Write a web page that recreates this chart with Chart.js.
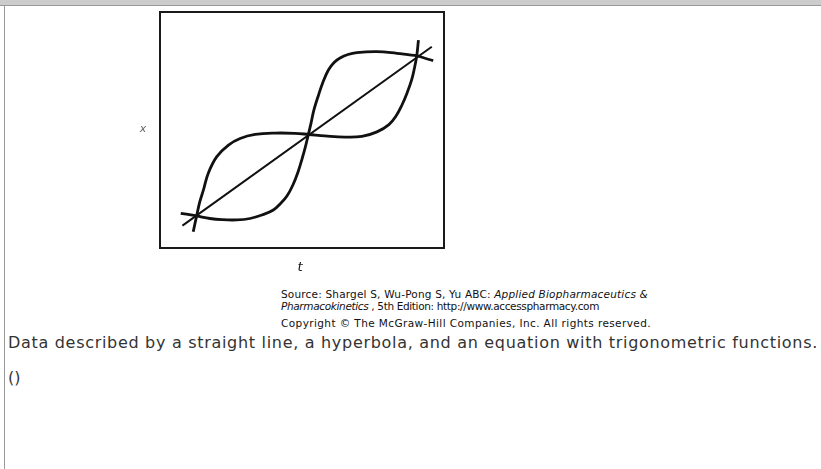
<!DOCTYPE html>
<html>
<head>
<meta charset="utf-8">
<title>Curve fitting: line, hyperbola, trigonometric</title>
<script src="https://cdn.jsdelivr.net/npm/chart.js@4/dist/chart.umd.min.js"></script>
<style>
  html, body { margin: 0; padding: 0; background: #fff; }
  body { width: 821px; height: 469px; position: relative; overflow: hidden; font-family: "DejaVu Sans", sans-serif; }
  .topbar { position: absolute; left: 0; top: 0; width: 821px; height: 5px; background: #cccccc; border-bottom: 1px solid #999; }
  .sidebar { position: absolute; left: 4px; top: 6px; width: 1px; height: 463px; background: #999; }
  #wrap { position: absolute; left: 120px; top: 0; width: 350px; height: 280px; }
  .src { position: absolute; left: 281px; font-size: 10.5px; line-height: 12px; color: #111; white-space: nowrap; }
  .cap { position: absolute; left: 8px; font-size: 16px; line-height: 20px; color: #333; white-space: nowrap; }
</style>
</head>
<body>
<div class="topbar"></div>
<div class="sidebar"></div>
<div id="wrap"><canvas id="chart" width="350" height="280"></canvas></div>
<div class="src fit" data-w="367" style="top:288px">Source: Shargel S, Wu-Pong S, Yu ABC: <i>Applied Biopharmaceutics &amp;</i></div>
<div class="src fit" data-w="318" style="top:300px"><i>Pharmacokinetics</i> , 5th Edition: http://www.accesspharmacy.com</div>
<div class="src fit" data-w="370" style="top:317px">Copyright © The McGraw-Hill Companies, Inc. All rights reserved.</div>
<div class="cap fit" data-w="810" style="top:333px">Data described by a straight line, a hyperbola, and an equation with trigonometric functions.</div>
<div class="cap" style="top:368px">()</div>
<script>
// Straight line through the data
const lineT = [0.79, 9.57];
const lineX = [0.95, 8.53];

// Curve that is steep at both ends and flat through the middle
const trigT = [1.17, 1.29, 1.40, 1.53, 1.70, 2.00, 2.41, 2.82, 3.35, 4.05, 4.75, 5.25,
               5.81, 6.51, 7.11, 7.64, 8.06, 8.31, 8.52, 8.70, 8.86, 8.96, 9.04, 9.10];
const trigX = [0.69, 1.36, 1.95, 2.46, 3.17, 3.87, 4.36, 4.64, 4.81, 4.87, 4.86, 4.81,
               4.75, 4.70, 4.73, 4.92, 5.23, 5.59, 6.06, 6.57, 7.12, 7.63, 8.14, 8.81];

// Curve that is flat at both ends and steep through the middle
const hypT = [0.73, 0.99, 1.29, 1.76, 2.18, 2.70, 3.17, 3.59, 3.99, 4.26, 4.47, 4.68, 4.86,
              5.00, 5.11, 5.22, 5.32, 5.42, 5.56, 5.74, 5.93, 6.13, 6.34, 6.62, 6.93, 7.63,
              8.34, 8.73, 9.06, 9.33, 9.62];
const hypX = [1.47, 1.42, 1.36, 1.25, 1.20, 1.19, 1.25, 1.40, 1.61, 1.91, 2.20, 2.67, 3.22,
              3.77, 4.24, 4.79, 5.30, 5.85, 6.40, 7.03, 7.54, 7.86, 8.05, 8.20, 8.28, 8.32,
              8.25, 8.19, 8.14, 8.04, 7.94];

// Axis ranges and titles
const tRange = [0, 10];
const xRange = [0, 10];
const tTitle = 't';
const xTitle = 'x';

const toPoints = (ts, xs) => ts.map((t, i) => ({ x: t, y: xs[i] }));

// Spread each caption line across its column width
document.querySelectorAll('.fit').forEach(el => {
  const w = el.getBoundingClientRect().width;
  const target = parseFloat(el.dataset.w);
  const n = el.textContent.length;
  if (w > 0 && n > 1) el.style.letterSpacing = ((target - w) / n).toFixed(3) + 'px';
});

// Frame around the plot area plus the italic axis letters
const framePlugin = {
  id: 'frame',
  afterDatasetsDraw(chart) {
    const { ctx, chartArea: a } = chart;
    ctx.save();
    ctx.strokeStyle = '#1a1a1a';
    ctx.lineWidth = 2;
    ctx.strokeRect(a.left, a.top, a.right - a.left, a.bottom - a.top);
    ctx.textAlign = 'center';
    ctx.textBaseline = 'middle';
    ctx.fillStyle = '#666';
    ctx.font = 'italic 11px "DejaVu Sans", sans-serif';
    ctx.fillText(xTitle, a.left - 17, (a.top + a.bottom) / 2 - 1);
    ctx.fillStyle = '#111';
    ctx.font = 'italic 13px "DejaVu Sans", sans-serif';
    ctx.fillText(tTitle, (a.left + a.right) / 2 - 2, a.bottom + 20);
    ctx.restore();
  }
};

new Chart(document.getElementById('chart'), {
  type: 'scatter',
  data: {
    datasets: [
      { label: 'Straight line', data: toPoints(lineT, lineX), showLine: true,
        borderColor: '#111', borderWidth: 2, pointRadius: 0, tension: 0 },
      { label: 'Trigonometric', data: toPoints(trigT, trigX), showLine: true,
        borderColor: '#111', borderWidth: 2.8, pointRadius: 0, tension: 0.4 },
      { label: 'Hyperbola', data: toPoints(hypT, hypX), showLine: true,
        borderColor: '#111', borderWidth: 2.8, pointRadius: 0, tension: 0.4 }
    ]
  },
  options: {
    responsive: false,
    animation: false,
    layout: { padding: { left: 40, top: 12, right: 26, bottom: 32 } },
    plugins: { legend: { display: false }, tooltip: { enabled: false } },
    scales: {
      x: { type: 'linear', min: tRange[0], max: tRange[1], display: false },
      y: { type: 'linear', min: xRange[0], max: xRange[1], display: false }
    }
  },
  plugins: [framePlugin]
});
</script>
</body>
</html>
